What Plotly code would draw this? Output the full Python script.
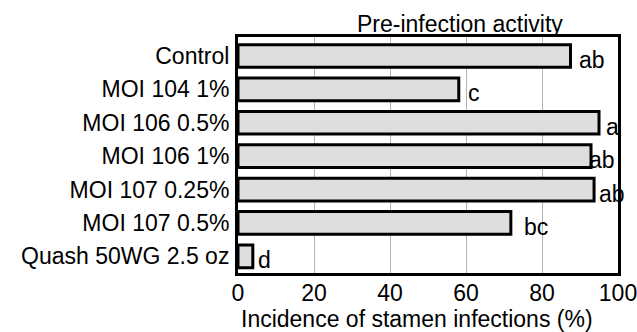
import plotly.graph_objects as go

treatments = ["Control", "MOI 104 1%", "MOI 106 0.5%", "MOI 106 1%",
              "MOI 107 0.25%", "MOI 107 0.5%", "Quash 50WG 2.5 oz"]
incidence = [87.5, 58.1, 95.0, 92.9, 93.7, 71.8, 3.9]
letters = ["ab", "c", "a", "ab", "ab", "bc", "d"]
x_ticks = [0, 20, 40, 60, 80, 100]

# style: per-label horizontal pixel offsets from bar end
label_xshift = [6, 7, 5, -4, 3, 11, 3]

FONT = "Liberation Sans, Arial, sans-serif"
FS = 23

fig = go.Figure()
fig.add_trace(go.Bar(
    x=incidence, y=treatments, orientation="h",
    marker=dict(color="#dedede", line=dict(color="black", width=3)),
    width=0.68, hoverinfo="skip",
))

for t, v, l, dx in zip(treatments, incidence, letters, label_xshift):
    fig.add_annotation(x=v, y=t, text=l, showarrow=False, xanchor="left",
                       yanchor="middle", xshift=dx, yshift=-4,
                       font=dict(family=FONT, size=FS, color="black"))

# chart title (sits right of centre, as in the original)
fig.add_annotation(x=0.584, xref="paper", y=1, yref="paper",
                   text="Pre-infection activity", showarrow=False,
                   xanchor="center", yanchor="bottom", yshift=-2,
                   font=dict(family=FONT, size=FS, color="black"))

# x-axis title
fig.add_annotation(x=0.472, xref="paper", y=0, yref="paper",
                   text="Incidence of stamen infections (%)", showarrow=False,
                   xanchor="center", yanchor="top", yshift=-31,
                   font=dict(family=FONT, size=FS, color="black"))

fig.update_layout(
    width=637, height=332,
    margin=dict(l=238, r=19, t=37, b=59),
    paper_bgcolor="white", plot_bgcolor="white",
    showlegend=False,
    font=dict(family=FONT, size=FS, color="black"),
    xaxis=dict(range=[0, 100], tickvals=x_ticks, ticks="",
               showgrid=True, gridcolor="#b4b4b4", gridwidth=1,
               showline=True, linecolor="black", linewidth=3, mirror=True,
               zeroline=False, fixedrange=True, ticklabelstandoff=-3,
               ticklabeloverflow="allow", automargin=False,
               tickfont=dict(family=FONT, size=FS)),
    yaxis=dict(autorange="reversed", ticks="", showgrid=False,
               showline=True, linecolor="black", linewidth=3, mirror=True,
               tickfont=dict(family=FONT, size=FS), ticklabelstandoff=1,
               automargin=False, fixedrange=True),
)

fig.write_html("out.html")
